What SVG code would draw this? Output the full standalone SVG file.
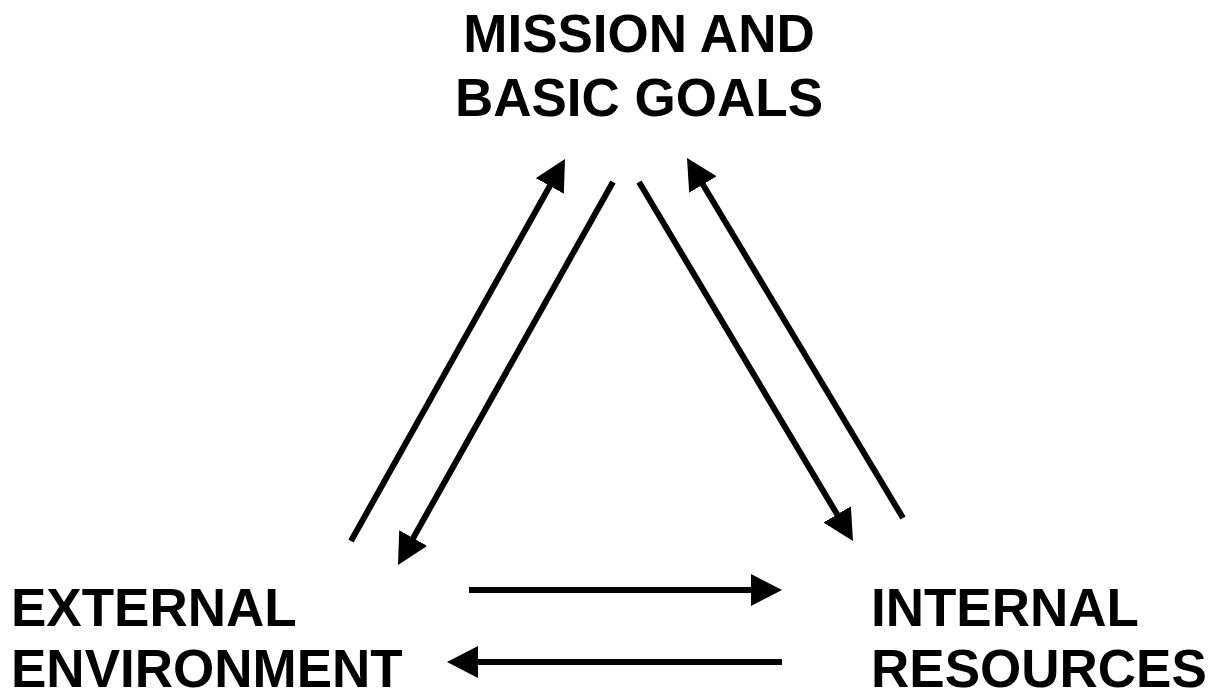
<svg xmlns="http://www.w3.org/2000/svg" width="1215" height="696" viewBox="0 0 1215 696">
<style>
.lbl{font-family:"Liberation Sans",Arial,sans-serif;font-weight:bold;font-size:53px;fill:#000}
.ln{stroke:#000;stroke-width:6;fill:none}
</style>
<defs>
<marker id="ah" markerUnits="userSpaceOnUse" markerWidth="34" markerHeight="34" refX="22" refY="16" orient="auto">
<path d="M0,0 L31,16 L0,32 Z" fill="#000"/>
</marker>
</defs>
<rect width="1215" height="696" fill="#fff"/>
<g id="connectors">
<line class="ln" x1="351" y1="541" x2="560.6" y2="166.8" marker-end="url(#ah)"/>
<line class="ln" x1="613" y1="182" x2="402.4" y2="557.2" marker-end="url(#ah)"/>
<line class="ln" x1="639" y1="182" x2="848.4" y2="533.3" marker-end="url(#ah)"/>
<line class="ln" x1="903" y1="518" x2="691.6" y2="165.7" marker-end="url(#ah)"/>
<line class="ln" x1="469" y1="590" x2="773" y2="590" marker-end="url(#ah)"/>
<line class="ln" x1="782" y1="662" x2="456" y2="662" marker-end="url(#ah)"/>
</g>
<g id="mission">
<text class="lbl" x="639" y="52" text-anchor="middle">MISSION AND</text>
<text class="lbl" x="639" y="116" text-anchor="middle">BASIC GOALS</text>
</g>
<g id="external">
<text class="lbl" x="11" y="626">EXTERNAL</text>
<text class="lbl" x="11" y="687">ENVIRONMENT</text>
</g>
<g id="internal">
<text class="lbl" x="871" y="626">INTERNAL</text>
<text class="lbl" x="871" y="687">RESOURCES</text>
</g>
</svg>
